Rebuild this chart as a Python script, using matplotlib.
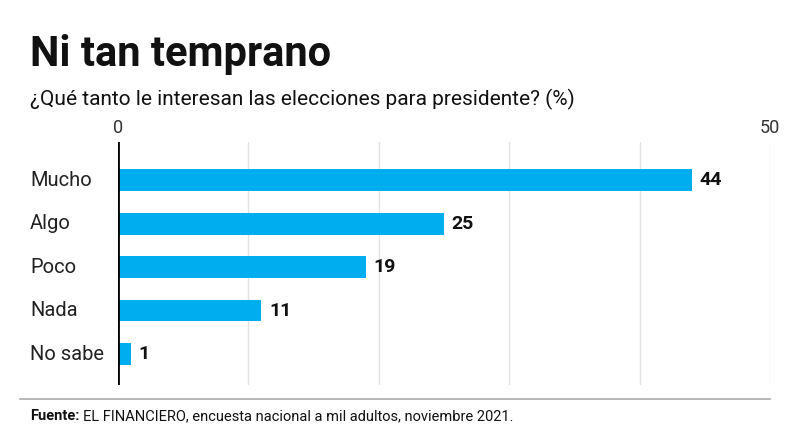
import matplotlib
matplotlib.use("Agg")
import matplotlib.pyplot as plt
from matplotlib import font_manager
import matplotlib.transforms as mtrans

categories = ["Mucho", "Algo", "Poco", "Nada", "No sabe"]
values = [44, 25, 19, 11, 1]
tick_values = [0, 50]
grid_values = [10, 20, 30, 40, 50]

names = {f.name for f in font_manager.fontManager.ttflist}
fam = "Liberation Sans Narrow" if "Liberation Sans Narrow" in names else "Roboto"
plt.rcParams['font.family'] = [fam, 'DejaVu Sans']

fig = plt.figure(figsize=(8, 4.36), dpi=100)
ax = fig.add_axes([0.1475, 0.117, 0.815, 0.557])

pos = list(range(len(categories)))
ax.barh(pos, values, height=0.5, color="#00AEEF", zorder=3)
for g in grid_values:
    ax.axvline(g, color="#e3e3e3", lw=1, zorder=1)
ax.axvline(0, color="black", lw=2, zorder=4)

ax.set_xlim(0, 50)
ax.set_ylim(4.71, -0.874)
for s in ax.spines.values():
    s.set_visible(False)
ax.set_yticks([])
ax.xaxis.tick_top()
ax.set_xticks(tick_values)
ax.set_xticklabels([str(t) for t in tick_values], fontsize=13, color="#333333")
ax.tick_params(axis='x', length=0, pad=4)

tr = mtrans.blended_transform_factory(fig.transFigure, ax.transData)
for p, c, v in zip(pos, categories, values):
    ax.text(30/800, p, c, transform=tr, ha="left", va="center", fontsize=14.5, color="#222222")
    ax.text(v + 0.6, p, str(v), ha="left", va="center", fontsize=14, fontweight="bold", color="#111111")

fig.text(30/800, 1-66/436, "Ni tan temprano", fontsize=30, fontweight="bold", va="baseline", ha="left", color="#111111")
fig.text(30/800, 1-105/436, "¿Qué tanto le interesan las elecciones para presidente? (%)", fontsize=15, va="baseline", ha="left", color="#111111")

fig.add_artist(plt.Line2D([20/800, 770/800], [1-399/436, 1-399/436], color="#aaaaaa", lw=1.2, transform=fig.transFigure))
t1 = fig.text(30/800, 1-420/436, "Fuente:", fontsize=10.5, fontweight="bold", va="baseline", ha="left", color="#111111")
fig.canvas.draw()
bb = t1.get_window_extent()
fig.text((bb.x1 + 4)/800, 1-420/436, "EL FINANCIERO, encuesta nacional a mil adultos, noviembre 2021.", fontsize=10.5, va="baseline", ha="left", color="#111111")

fig.savefig("out.png", dpi=100)
